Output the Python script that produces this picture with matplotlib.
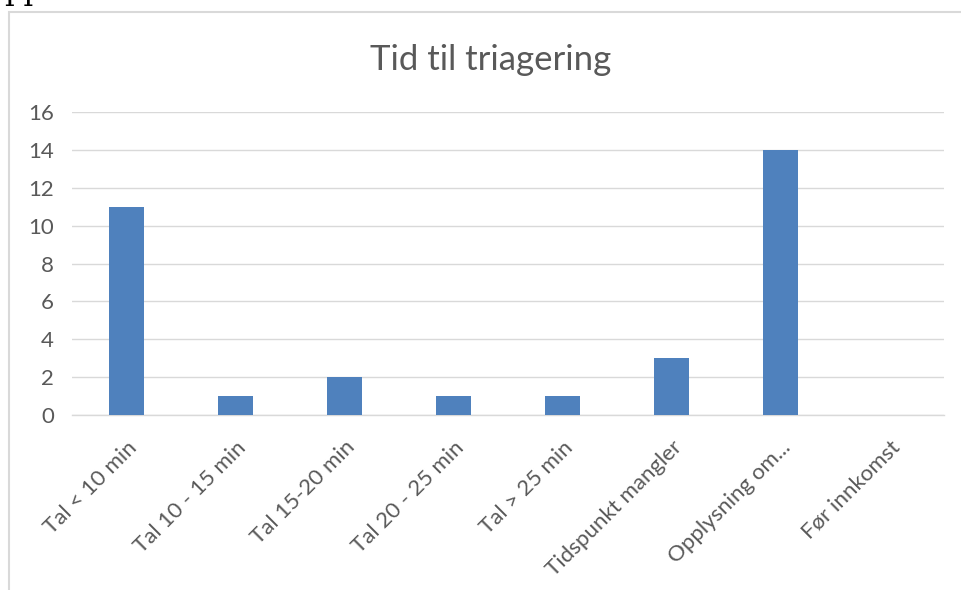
import matplotlib.pyplot as plt
from matplotlib.patches import Rectangle

categories = ["Tal < 10 min", "Tal 10 - 15 min", "Tal 15-20 min", "Tal 20 - 25 min",
              "Tal > 25 min", "Tidspunkt mangler", "Opplysning om...", "Før innkomst"]
values = [11, 1, 2, 1, 1, 3, 14, 0]
yticks = [0, 2, 4, 6, 8, 10, 12, 14, 16]

W, H = 962, 590
plt.rcParams['font.family'] = ['Lato', 'DejaVu Sans']
fig = plt.figure(figsize=(W / 100, H / 100), dpi=100)

# chart frame (cropped on right and bottom)
fig.patches.append(Rectangle((9 / W, -0.1), 1.2, 1 - 12 / H + 0.1, transform=fig.transFigure,
                             fill=False, edgecolor='#d9d9d9', linewidth=1.5))
# clipped text fragment above the chart (only descenders visible)
fig.text(4 / W, 1 + 1 / H, "pp", family='DejaVu Serif', fontsize=22, color='black',
         va='baseline')

ax = fig.add_axes([72 / W, 1 - 415 / H, (944 - 72) / W, (415 - 112) / H])
x = range(len(categories))
ax.bar(x, values, width=0.32, color='#4f81bd', zorder=3)
ax.set_xlim(-0.5, len(categories) - 0.5)
ax.set_ylim(0, 16)
ax.set_yticks(yticks)
ax.yaxis.grid(True, color='#d9d9d9', linewidth=1)
for s in ['top', 'right', 'left']:
    ax.spines[s].set_visible(False)
ax.spines['bottom'].set_color('#d9d9d9')
ax.spines['bottom'].set_linewidth(1)
ax.tick_params(axis='both', length=0, colors='#595959', labelsize=16)
ax.tick_params(axis='y', pad=13)
ax.tick_params(axis='x', pad=16)
ax.set_xticks(list(x))
ax.set_xticklabels(categories, rotation=45, ha='right', rotation_mode='anchor')

fig.text(491 / W, 1 - 60 / H, "Tid til triagering", fontsize=25, color='#595959',
         ha='center', va='center')

fig.savefig('out.png', dpi=100)
